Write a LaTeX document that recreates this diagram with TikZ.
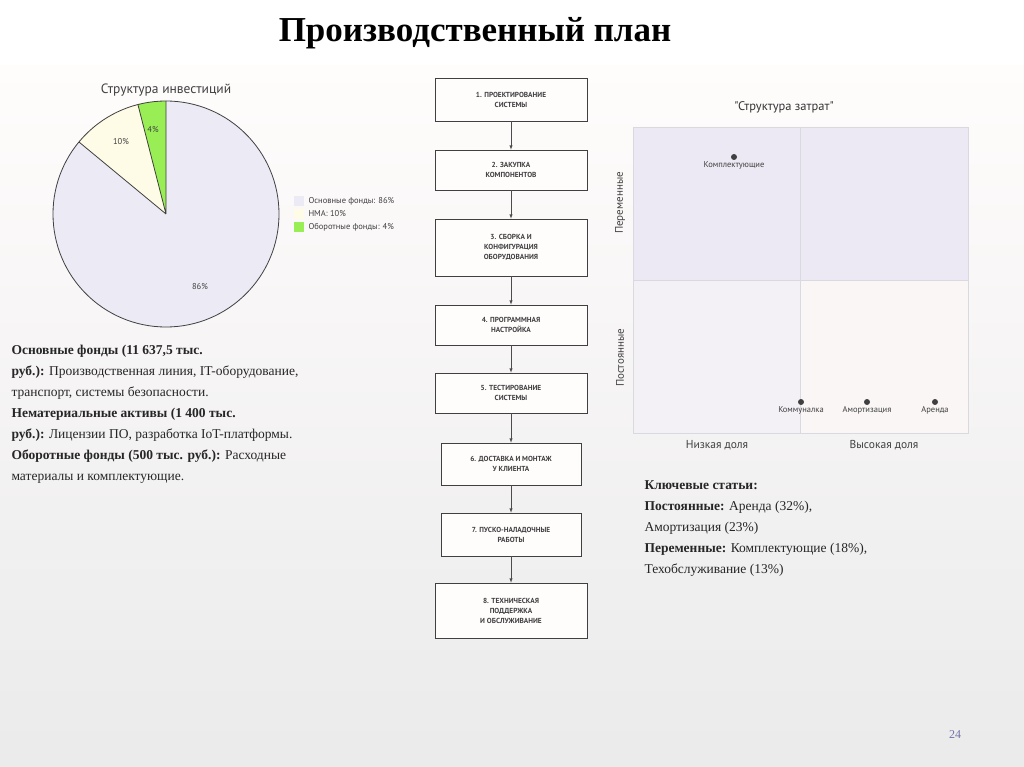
\documentclass[tikz,border=0pt]{standalone}
\usepackage{fontspec}
\usetikzlibrary{positioning}
\setmainfont{Liberation Serif}
\newfontfamily\chartfont{PT Sans}
\definecolor{lav}{HTML}{ECEAF4}
\definecolor{lavtop}{HTML}{EDE9F4}
\definecolor{lavbl}{HTML}{F3F1F6}
\definecolor{lavbr}{HTML}{FAF6F6}
\definecolor{cream}{HTML}{FEFCE6}
\definecolor{lime}{HTML}{99EE55}
\begin{document}
\begin{tikzpicture}[x=1pt,y=-1pt,
  stepbox/.style={draw=black!75,line width=0.6pt,fill=white!60!pink!10,align=center,font=\chartfont\bfseries\fontsize{7.3}{10}\selectfont,text=black!75,minimum width=152pt,inner sep=2pt},
  arr/.style={-latex,black!70,line width=0.5pt},
  dot/.style={circle,fill=black!75,inner sep=0pt,minimum size=6pt},
  lbl/.style={font=\chartfont\fontsize{8.5}{10}\selectfont,text=black!75},
  body/.style={align=left,anchor=north west,font=\fontsize{13.5}{21}\selectfont,text=black!85}]
\useasboundingbox (0,0) rectangle (1024,767);
\shade[top color=white!96!red!30,bottom color=black!8] (0,65) rectangle (1024,767);
\fill[white] (0,0) rectangle (1024,65);
\node (title) at (475,33) {\fontsize{35}{40}\selectfont\bfseries Производственный план};
% pie
\coordinate (c) at (166,214);
\fill[lav] (c) -- ++(-140.4:113) arc(-140.4:-450:113) -- cycle;
\fill[cream] (c) -- ++(-104.4:113) arc(-104.4:-140.4:113) -- cycle;
\fill[lime] (c) -- ++(-90:113) arc(-90:-104.4:113) -- cycle;
\draw[black!75,line width=0.8pt] (c) circle (113);
\draw[black!75,line width=0.8pt] (c) -- ++(-90:113) (c) -- ++(-104.4:113) (c) -- ++(-140.4:113);
\node[font=\chartfont\fontsize{13.5}{15}\selectfont,text=black!75] (pt) at (166,90) {Структура инвестиций};
\node[lbl] (p4) at (153,130) {4\%};
\node[lbl] (p10) at (121,142) {10\%};
\node[lbl] (p86) at (200,287) {86\%};
\fill[lav] (294,196) rectangle (304,206);
\fill[cream] (294,209) rectangle (304,219);
\fill[lime] (294,222) rectangle (304,232);
\node[lbl,anchor=west] (l1) at (305,201) {Основные фонды: 86\%};
\node[lbl,anchor=west] (l2) at (305,214) {НМА: 10\%};
\node[lbl,anchor=west] (l3) at (305,227) {Оборотные фонды: 4\%};
\node[body] (lt) at (8,342) {\textbf{Основные фонды (11 637,5 тыс.}\\\textbf{руб.):} Производственная линия, IT-оборудование,\\транспорт, системы безопасности.\\\textbf{Нематериальные активы (1 400 тыс.}\\\textbf{руб.):} Лицензии ПО, разработка IoT-платформы.\\\textbf{Оборотные фонды (500 тыс. руб.):} Расходные\\материалы и комплектующие.};
% flow
\node[stepbox,minimum height=43pt] (s1) at (511,99.5) {1. ПРОЕКТИРОВАНИЕ\\СИСТЕМЫ};
\node[stepbox,minimum height=40pt] (s2) at (511,170) {2. ЗАКУПКА\\КОМПОНЕНТОВ};
\node[stepbox,minimum height=57pt] (s3) at (511,247.5) {3. СБОРКА И\\КОНФИГУРАЦИЯ\\ОБОРУДОВАНИЯ};
\node[stepbox,minimum height=40pt] (s4) at (511,325) {4. ПРОГРАММНАЯ\\НАСТРОЙКА};
\node[stepbox,minimum height=40pt] (s5) at (511,393) {5. ТЕСТИРОВАНИЕ\\СИСТЕМЫ};
\node[stepbox,minimum height=42pt,minimum width=140pt] (s6) at (511,464) {6. ДОСТАВКА И МОНТАЖ\\У КЛИЕНТА};
\node[stepbox,minimum height=43pt,minimum width=140pt] (s7) at (511,534.5) {7. ПУСКО-НАЛАДОЧНЫЕ\\РАБОТЫ};
\node[stepbox,minimum height=55pt] (s8) at (511,610.5) {8. ТЕХНИЧЕСКАЯ\\ПОДДЕРЖКА\\И ОБСЛУЖИВАНИЕ};
\foreach \a/\b in {s1/s2,s2/s3,s3/s4,s4/s5,s5/s6,s6/s7,s7/s8} \draw[arr] (\a) -- (\b);
% matrix
\fill[lavtop] (633,127) rectangle (968,280);
\fill[lavbl] (633,280) rectangle (800,433);
\fill[lavbr] (800,280) rectangle (968,433);
\draw[blue!15!black!15,line width=0.8pt] (633,127) rectangle (968,433) (800,127) -- (800,433) (633,280) -- (968,280);
\node[font=\chartfont\fontsize{12.5}{14}\selectfont,text=black!80] (mt) at (784,107) {"Структура затрат"};
\node[dot] (d1) at (734,157) {};
\node[dot] (d2) at (801,402) {};
\node[dot] (d3) at (867,402) {};
\node[dot] (d4) at (935,402) {};
\node[lbl] (t1) at (734,165) {Комплектующие};
\node[lbl] (t2) at (801,410) {Коммуналка};
\node[lbl] (t3) at (867,410) {Амортизация};
\node[lbl] (t4) at (935,410) {Аренда};
\node[font=\chartfont\fontsize{11}{12}\selectfont,text=black!75,rotate=90] (ay1) at (620,203) {Переменные};
\node[font=\chartfont\fontsize{11}{12}\selectfont,text=black!75,rotate=90] (ay2) at (620,358) {Постоянные};
\node[font=\chartfont\fontsize{11.5}{12}\selectfont,text=black!75] (ax1) at (717,445) {Низкая доля};
\node[font=\chartfont\fontsize{11.5}{12}\selectfont,text=black!75] (ax2) at (884,445) {Высокая доля};
\node[body] (rt) at (641,477) {\textbf{Ключевые статьи:}\\\textbf{Постоянные:} Аренда (32\%),\\Амортизация (23\%)\\\textbf{Переменные:} Комплектующие (18\%),\\Техобслуживание (13\%)};
\node[font=\fontsize{12}{14}\selectfont,text=blue!40!black!55] (pg) at (955,735) {24};
\end{tikzpicture}
\end{document}
